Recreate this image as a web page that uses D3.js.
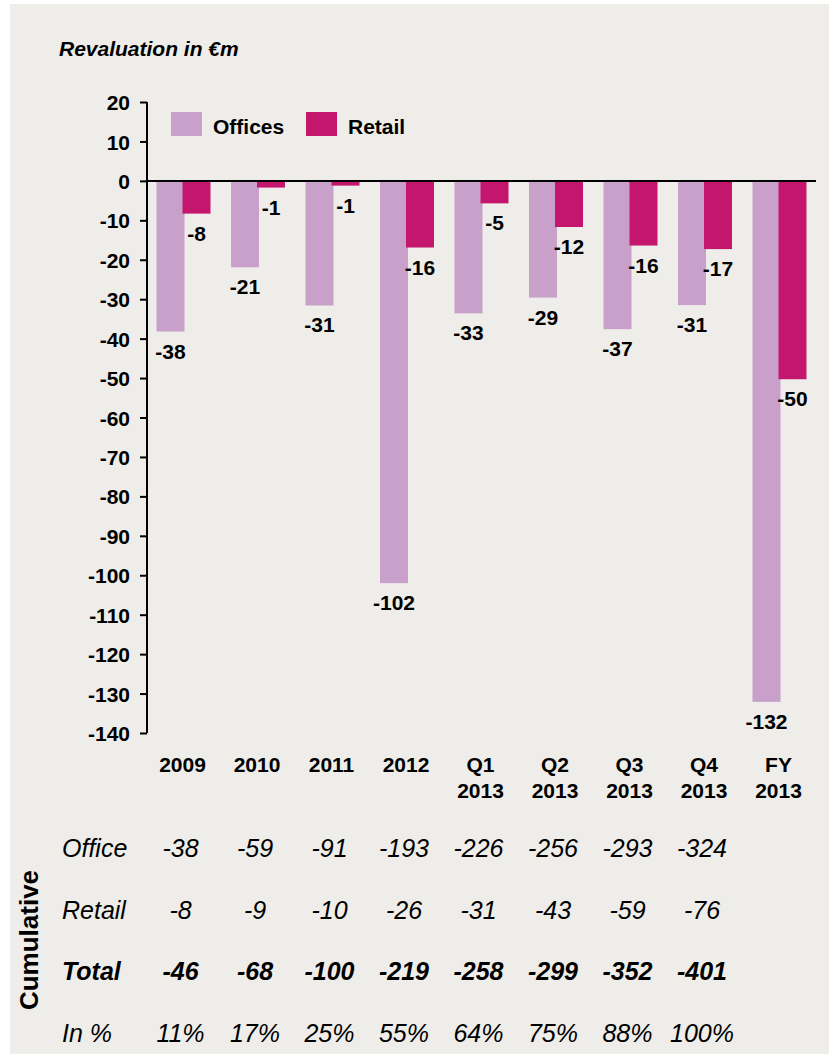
<!DOCTYPE html>
<html>
<head>
<meta charset="utf-8">
<script src="https://cdn.jsdelivr.net/npm/d3@7"></script>
<style>
  html, body { margin: 0; padding: 0; background: #ffffff; }
  svg { display: block; }
  text { font-family: "Liberation Sans", Arial, Helvetica, sans-serif; fill: #000; }
</style>
</head>
<body>
<script>
// ---- Data ----
const categories = ["2009", "2010", "2011", "2012", "Q1 2013", "Q2 2013", "Q3 2013", "Q4 2013", "FY 2013"];
const officesValues = [-38.2, -21.9, -31.6, -102.0, -33.6, -29.6, -37.6, -31.5, -132.1];
const retailValues  = [-8.3, -1.7, -1.2, -16.9, -5.7, -11.7, -16.4, -17.3, -50.3];
const officesLabels = ["-38", "-21", "-31", "-102", "-33", "-29", "-37", "-31", "-132"];
const retailLabels  = ["-8", "-1", "-1", "-16", "-5", "-12", "-16", "-17", "-50"];
const yTicks = [20, 10, 0, -10, -20, -30, -40, -50, -60, -70, -80, -90, -100, -110, -120, -130, -140];
const seriesNames = ["Offices", "Retail"];

const tableRowNames = ["Office", "Retail", "Total", "In %"];
const cumOffice = ["-38", "-59", "-91", "-193", "-226", "-256", "-293", "-324"];
const cumRetail = ["-8", "-9", "-10", "-26", "-31", "-43", "-59", "-76"];
const cumTotal  = ["-46", "-68", "-100", "-219", "-258", "-299", "-352", "-401"];
const cumPct    = ["11%", "17%", "25%", "55%", "64%", "75%", "88%", "100%"];

const colors = { Offices: "#C8A0CA", Retail: "#C4166C" };

// ---- Layout ----
const W = 829, H = 1058;
const svg = d3.select("body").append("svg").attr("width", W).attr("height", H);

svg.append("rect").attr("x", 10).attr("y", 4).attr("width", W - 10).attr("height", 1050)
  .attr("fill", "#EEEDE9");

const x = d3.scaleBand().domain(categories).range([147, 816])
  .paddingInner(0.275).paddingOuter(0.1275);
const y = d3.scaleLinear().domain([-140, 20]).range([733, 102]);

// Title
svg.append("text").attr("x", 59).attr("y", 56)
  .style("font-size", "21px").style("font-weight", "bold").style("font-style", "italic")
  .text("Revaluation in €m");

// Bars
const bw = x.bandwidth();
const half = bw / 2;
const gBars = svg.append("g");
gBars.selectAll("rect.off").data(categories).join("rect")
  .attr("class", "off")
  .attr("x", d => x(d))
  .attr("width", half + 1)
  .attr("y", y(0))
  .attr("height", (d, i) => y(officesValues[i]) - y(0))
  .attr("fill", colors.Offices);
gBars.selectAll("rect.ret").data(categories).join("rect")
  .attr("class", "ret")
  .attr("x", d => x(d) + half - 1)
  .attr("width", half + 1)
  .attr("y", y(0))
  .attr("height", (d, i) => y(retailValues[i]) - y(0))
  .attr("fill", colors.Retail);

// Value labels
const lblStyle = sel => sel.style("font-size", "21px").style("font-weight", "bold").attr("text-anchor", "middle");
svg.append("g").selectAll("text").data(categories).join("text")
  .attr("x", d => x(d) + (half + 1) / 2)
  .attr("y", (d, i) => y(officesValues[i]) + 27)
  .call(lblStyle)
  .text((d, i) => officesLabels[i]);
svg.append("g").selectAll("text").data(categories).join("text")
  .attr("x", d => x(d) + half - 1 + (half + 1) / 2)
  .attr("y", (d, i) => y(retailValues[i]) + 27)
  .call(lblStyle)
  .text((d, i) => retailLabels[i]);

// Y axis
const yAxis = d3.axisLeft(y).tickValues(yTicks).tickSize(7).tickPadding(10).tickFormat(d => String(d));
const gy = svg.append("g").attr("transform", "translate(147,0)").call(yAxis);
gy.select(".domain").attr("stroke", "#000").attr("stroke-width", 2).attr("d", `M0,${y(20)}V${y(-140)}`);
gy.selectAll(".tick line").attr("stroke", "#000").attr("stroke-width", 2);
gy.selectAll(".tick text").style("font-size", "21px").style("font-weight", "bold")
  .style("font-family", "'Liberation Sans', Arial, sans-serif").attr("fill", "#000").attr("dy", "0.36em");

// Zero line
svg.append("line").attr("x1", 147).attr("x2", 816).attr("y1", y(0)).attr("y2", y(0))
  .attr("stroke", "#000").attr("stroke-width", 2);

// X category labels
const gx = svg.append("g");
categories.forEach(c => {
  const parts = c.split(" ");
  const t = gx.append("text").attr("x", x(c) + bw / 2 - 1).attr("y", 772)
    .attr("text-anchor", "middle").style("font-size", "21px").style("font-weight", "bold");
  parts.forEach((p, j) => {
    t.append("tspan").attr("x", x(c) + bw / 2 - 1).attr("dy", j === 0 ? 0 : 26).text(p);
  });
});

// Legend
const legX = [171, 306];
seriesNames.forEach((s, i) => {
  svg.append("rect").attr("x", legX[i]).attr("y", 112).attr("width", 31).attr("height", 24).attr("fill", colors[s]);
  svg.append("text").attr("x", legX[i] + 42).attr("y", 134)
    .style("font-size", "21px").style("font-weight", "bold").text(s);
});

// Cumulative table
const rows = [cumOffice, cumRetail, cumTotal, cumPct];
const rowY = [857, 919, 980, 1042];
rows.forEach((r, ri) => {
  const bold = ri === 2;
  svg.append("text").attr("x", 62).attr("y", rowY[ri])
    .style("font-size", "25px").style("font-style", "italic").style("font-weight", bold ? "bold" : "normal")
    .text(tableRowNames[ri]);
  svg.append("g").selectAll("text").data(r).join("text")
    .attr("x", (d, i) => x(categories[i]) + bw / 2 - 3)
    .attr("y", rowY[ri])
    .attr("text-anchor", "middle")
    .style("font-size", "25px").style("font-style", "italic").style("font-weight", bold ? "bold" : "normal")
    .text(d => d);
});

svg.append("text").attr("transform", "translate(38,940) rotate(-90)")
  .attr("text-anchor", "middle").style("font-size", "26px").style("font-weight", "bold")
  .text("Cumulative");
</script>
</body>
</html>
